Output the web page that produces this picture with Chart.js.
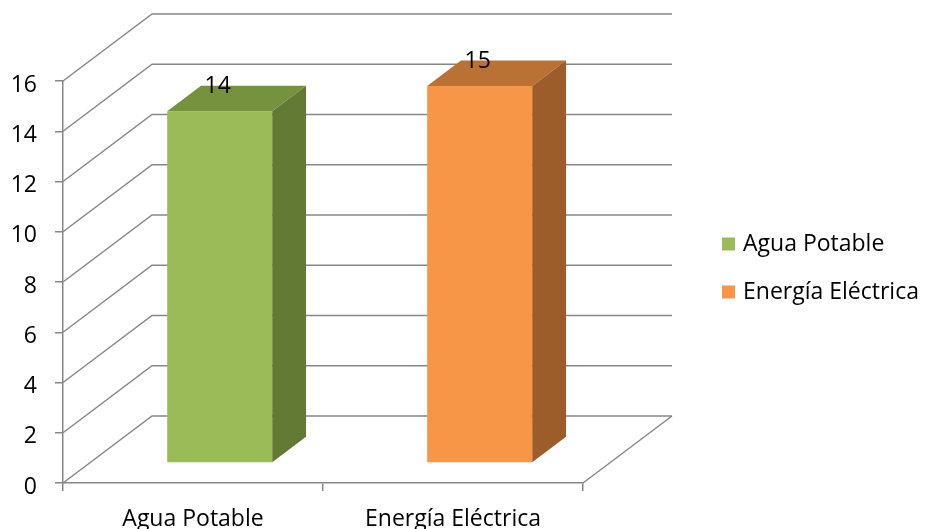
<!DOCTYPE html>
<html>
<head>
<meta charset="utf-8">
<script src="https://cdn.jsdelivr.net/npm/chart.js@4"></script>
<style>
  html, body { margin: 0; padding: 0; background: #fff; }
  #wrap { width: 925px; height: 529px; }
</style>
</head>
<body>
<div id="wrap"><canvas id="servicesChart" width="925" height="529"></canvas></div>
<script>
const categories = ['Agua Potable', 'Energía Eléctrica'];
const values = [14, 15];
const frontColors = ['#9BBB59', '#F79646'];
const topColors = ['#77923F', '#BA7134'];
const sideColors = ['#637A35', '#9C5D2B'];
const yTicks = [0, 2, 4, 6, 8, 10, 12, 14, 16];

const FONT = '"Open Sans", sans-serif';
const FONT_SIZE = 23;
const GRID = '#878787';
// depth of the box (walls) in pixels, and where the bars sit inside it
const DEPTH_X = 89, DEPTH_Y = 67;
const BAR_FRONT = 0.3, BAR_DEPTH = 0.38;

const box3d = {
  id: 'box3d',
  beforeDatasetsDraw(chart) {
    const { ctx, scales: { x, y } } = chart;
    ctx.save();
    ctx.strokeStyle = GRID;
    ctx.lineWidth = 1.5;
    ctx.beginPath();
    yTicks.forEach(v => {
      const py = y.getPixelForValue(v);
      ctx.moveTo(x.left, py);
      ctx.lineTo(x.left + DEPTH_X, py - DEPTH_Y);
      ctx.lineTo(x.right + DEPTH_X, py - DEPTH_Y);
    });
    // right edge of the floor
    const y0 = y.getPixelForValue(0);
    ctx.moveTo(x.right, y0);
    ctx.lineTo(x.right + DEPTH_X, y0 - DEPTH_Y);
    ctx.stroke();
    ctx.restore();

    // push the bar plane back into the box
    ctx.save();
    ctx.translate(DEPTH_X * BAR_FRONT, -DEPTH_Y * BAR_FRONT);
  },
  afterDatasetsDraw(chart) {
    const { ctx } = chart;
    const dx = DEPTH_X * BAR_DEPTH, dy = DEPTH_Y * BAR_DEPTH;
    chart.getDatasetMeta(0).data.forEach((bar, i) => {
      const { x: cx, y: top, base, width } = bar.getProps(['x', 'y', 'base', 'width'], true);
      const l = cx - width / 2, r = cx + width / 2;

      // top face
      ctx.fillStyle = topColors[i];
      ctx.beginPath();
      ctx.moveTo(l, top);
      ctx.lineTo(r, top);
      ctx.lineTo(r + dx, top - dy);
      ctx.lineTo(l + dx, top - dy);
      ctx.closePath();
      ctx.fill();

      // side face
      ctx.fillStyle = sideColors[i];
      ctx.beginPath();
      ctx.moveTo(r, top);
      ctx.lineTo(r + dx, top - dy);
      ctx.lineTo(r + dx, base - dy);
      ctx.lineTo(r, base);
      ctx.closePath();
      ctx.fill();

      // value label
      ctx.fillStyle = '#000';
      ctx.font = FONT_SIZE + 'px ' + FONT;
      ctx.textAlign = 'center';
      ctx.textBaseline = 'alphabetic';
      ctx.fillText(String(values[i]), cx - 2, top - 18);
    });
    ctx.restore();
  },
  afterDraw(chart) {
    // legend, one entry per category
    const { ctx } = chart;
    ctx.save();
    ctx.font = FONT_SIZE + 'px ' + FONT;
    ctx.textAlign = 'left';
    ctx.textBaseline = 'middle';
    categories.forEach((name, i) => {
      const cy = 244 + i * 48;
      ctx.fillStyle = frontColors[i];
      ctx.fillRect(722, cy - 6.5, 13, 13);
      ctx.fillStyle = '#000';
      ctx.fillText(name, 743, cy);
    });
    ctx.restore();
  }
};

new Chart(document.getElementById('servicesChart'), {
  type: 'bar',
  data: {
    labels: categories,
    datasets: [{
      label: 'Servicios',
      data: values,
      backgroundColor: frontColors,
      borderWidth: 0,
      categoryPercentage: 1,
      barPercentage: 0.404,
      clip: false
    }]
  },
  options: {
    responsive: false,
    animation: false,
    events: [],
    layout: { padding: { top: 81, right: 342, bottom: 0, left: 0 } },
    plugins: {
      legend: { display: false },
      tooltip: { enabled: false }
    },
    scales: {
      x: {
        afterFit(scale) { scale.height = 46; },
        grid: { offset: true, drawOnChartArea: false, color: GRID, lineWidth: 1.5, tickLength: 8 },
        border: { color: GRID, width: 1.5 },
        ticks: { color: '#000', font: { family: FONT, size: FONT_SIZE }, padding: 15, maxRotation: 0 }
      },
      y: {
        min: 0,
        max: 16,
        afterFit(scale) { scale.width = 63; },
        grid: { drawOnChartArea: false, color: GRID, lineWidth: 1.5, tickLength: 8 },
        border: { color: GRID, width: 1.5 },
        ticks: { stepSize: 2, color: '#000', font: { family: FONT, size: FONT_SIZE }, padding: 18, labelOffset: 4 }
      }
    }
  },
  plugins: [box3d]
});
</script>
</body>
</html>
